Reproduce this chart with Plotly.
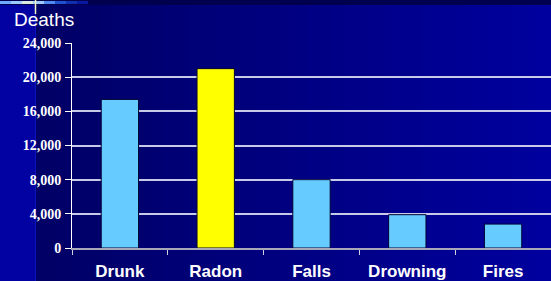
import plotly.graph_objects as go

categories = ["Drunk", "Radon", "Falls", "Drowning", "Fires"]
deaths = [17400, 21000, 8000, 3900, 2800]
bar_colors = ["#66CCFF", "#FFFF00", "#66CCFF", "#66CCFF", "#66CCFF"]
y_ticks = [0, 4000, 8000, 12000, 16000, 20000, 24000]
y_tick_labels = ["0", "4,000", "8,000", "12,000", "16,000", "20,000", "24,000"]

W, H = 551, 281
L, T, B = 72, 43, 33
PW, PH = W - L, H - T - B

def px(x):
    return (x - L) / PW
def py(y):
    return (H - B - y) / PH

fig = go.Figure()
fig.add_trace(go.Bar(
    x=categories, y=deaths,
    marker=dict(color=bar_colors, line=dict(color="#000033", width=1)),
    width=0.39,
))

shapes = []
shapes.append(dict(type="rect", xref="paper", yref="paper", x0=px(0), x1=px(35), y0=py(H), y1=py(0),
                   fillcolor="#0202A2", line=dict(width=0), layer="below"))
n = 40
c0 = (0x00, 0x00, 0x66)
c1 = (0x00, 0x00, 0x9E)
for i in range(n):
    t = i / (n - 1)
    col = "rgb(%d,%d,%d)" % tuple(int(c0[k] + (c1[k] - c0[k]) * t) for k in range(3))
    xa = 35 + (W - 35) * i / n
    xb = 35 + (W - 35) * (i + 1) / n + 1
    shapes.append(dict(type="rect", xref="paper", yref="paper", x0=px(xa), x1=px(xb), y0=py(H), y1=py(4),
                       fillcolor=col, line=dict(width=0), layer="below"))
shapes.append(dict(type="rect", xref="paper", yref="paper", x0=px(0), x1=px(W), y0=py(5), y1=py(0),
                   fillcolor="#00004E", line=dict(width=0), layer="below"))
grad = ["#6FA8FF", "#9FC8FF", "#D8E8E0", "#9FC8FF", "#4F88F0", "#2050D0", "#1030B0", "#0818A0"]
for i, col in enumerate(grad):
    shapes.append(dict(type="rect", xref="paper", yref="paper", x0=px(i * 11), x1=px((i + 1) * 11), y0=py(4), y1=py(1),
                       fillcolor=col, line=dict(width=0), layer="below"))
shapes.append(dict(type="line", xref="paper", yref="paper", x0=px(35.5), x1=px(35.5), y0=py(H), y1=py(0),
                   line=dict(color="#0A14B8", width=1), layer="below"))
shapes.append(dict(type="line", xref="paper", yref="paper", x0=px(35.5), x1=px(35.5), y0=py(14), y1=py(0),
                   line=dict(color="#F0F0C0", width=1.5), layer="below"))

fig.update_layout(
    width=W, height=H,
    margin=dict(l=L, r=0, t=T, b=B, autoexpand=False),
    paper_bgcolor="#000066",
    plot_bgcolor="rgba(0,0,0,0)",
    showlegend=False,
    shapes=shapes,
    xaxis=dict(
        type="category",
        tickson="boundaries",
        ticks="outside", ticklen=5, tickcolor="#D0D0E0", tickwidth=1,
        showline=True, linecolor="#A8A8B8", linewidth=2,
        showgrid=False,
        tickfont=dict(family="Liberation Sans, Arial", size=17, color="white", weight="bold"),
        ticklabelstandoff=7,
        automargin=False,
    ),
    yaxis=dict(
        range=[0, 24000],
        tickvals=y_ticks, ticktext=y_tick_labels,
        ticks="outside", ticklen=6, tickcolor="white", tickwidth=1,
        showline=True, linecolor="white", linewidth=1,
        showgrid=True, gridcolor="#C8C8E8", gridwidth=1.5,
        zeroline=False,
        tickfont=dict(family="Liberation Serif, Times New Roman", size=14, color="white", weight="bold"),
        ticklabelstandoff=1,
        automargin=False,
    ),
    annotations=[dict(
        text="Deaths", xref="paper", yref="paper", x=px(12), y=py(7),
        xanchor="left", yanchor="top", showarrow=False,
        font=dict(family="Liberation Sans, Arial", size=19, color="white"),
    )],
)

fig.write_html("out.html", config={"displayModeBar": False},
               post_script="document.body.style.margin='0';document.body.style.background='#000066';document.body.style.overflow='hidden';")
